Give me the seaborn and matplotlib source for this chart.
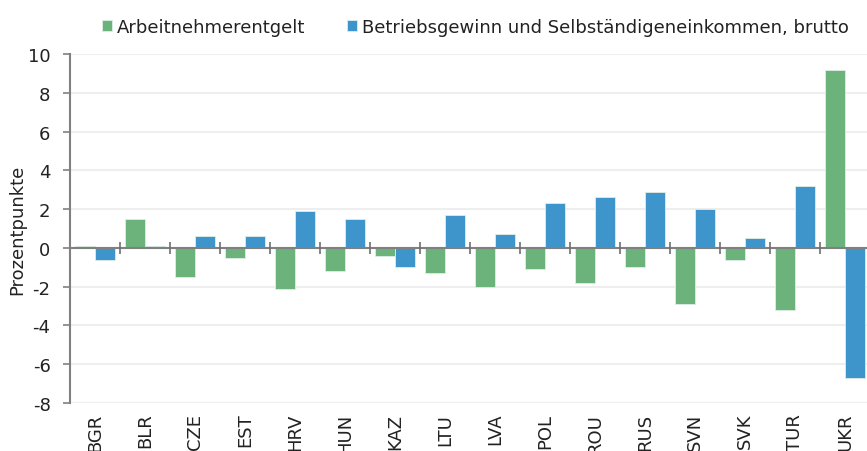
import matplotlib
matplotlib.use("Agg")
import matplotlib.pyplot as plt
import seaborn as sns
import pandas as pd
import numpy as np

# data
countries = ["BGR", "BLR", "CZE", "EST", "HRV", "HUN", "KAZ", "LTU",
             "LVA", "POL", "ROU", "RUS", "SVN", "SVK", "TUR", "UKR"]
arbeitnehmer = [0.1, 1.5, -1.5, -0.5, -2.1, -1.2, -0.4, -1.3,
                -2.0, -1.1, -1.8, -1.0, -2.9, -0.6, -3.2, 9.2]
betrieb = [-0.6, 0.1, 0.6, 0.6, 1.9, 1.5, -1.0, 1.7,
           0.7, 2.3, 2.6, 2.9, 2.0, 0.5, 3.2, -6.7]
series = ["Arbeitnehmerentgelt",
          "Betriebsgewinn und Selbständigeneinkommen, brutto"]
colors = ["#6bb37a", "#3e95cb"]

df = pd.DataFrame({
    "land": countries * 2,
    "wert": arbeitnehmer + betrieb,
    "reihe": [series[0]] * len(countries) + [series[1]] * len(countries),
})

sns.set_style("white")
plt.rcParams["font.family"] = ["DejaVu Sans"]
plt.rcParams["font.size"] = 13
plt.rcParams["axes.unicode_minus"] = False

fig = plt.figure(figsize=(8.67, 4.52), dpi=100)
ax = fig.add_axes([70 / 867, 1 - 404 / 452, 800 / 867, (404 - 55) / 452])

sns.barplot(data=df, x="land", y="wert", hue="reihe", palette=colors,
            saturation=1, width=0.8, edgecolor="#dfeee6", linewidth=0.6,
            ax=ax)

ax.set_xlim(-0.5, len(countries) - 0.5)
ax.set_ylim(-8, 10)
ax.set_yticks(np.arange(-8, 11, 2))
ax.yaxis.grid(True, color="#eeeeee", linewidth=1.5)
ax.set_axisbelow(True)

# zero line with category separators
ax.axhline(0, color="#808080", linewidth=1.5, zorder=3)
sep = np.arange(len(countries) - 1) + 0.5
ax.plot(sep, np.zeros_like(sep), linestyle="none", marker="|",
        markersize=9, markeredgewidth=1.2, color="#707070", zorder=4)

for s in ["top", "right", "bottom"]:
    ax.spines[s].set_visible(False)
ax.spines["left"].set_color("#808080")
ax.spines["left"].set_linewidth(1.5)

ax.tick_params(axis="y", left=True, length=5, width=1.2, color="#808080",
               pad=9, labelsize=13, labelcolor="#222222")
ax.tick_params(axis="x", bottom=False, length=0, pad=7, labelsize=13,
               labelcolor="#222222")
for lbl in ax.get_xticklabels():
    lbl.set_rotation(90)
    lbl.set_va("top")

ax.set_xlabel("")
ax.set_ylabel("Prozentpunkte", fontsize=13, color="#222222", labelpad=1)

ax.legend(loc="lower center", bbox_to_anchor=(0.507, 1.005), ncol=2,
          frameon=False, fontsize=13, handlelength=0.55, handleheight=0.55,
          handletextpad=0.3, columnspacing=2.3, labelcolor="#222222")

fig.savefig("out.png", dpi=100)
